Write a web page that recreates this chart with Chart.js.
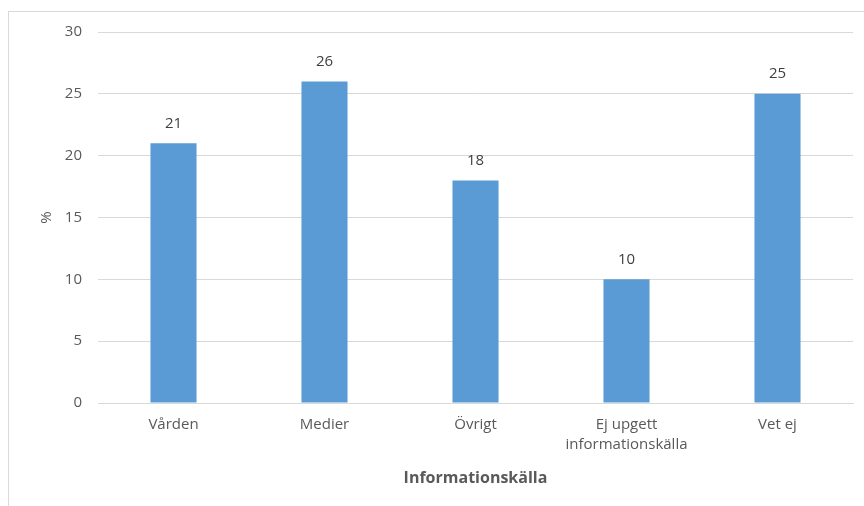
<!DOCTYPE html>
<html>
<head>
<meta charset="utf-8">
<script src="https://cdn.jsdelivr.net/npm/chart.js@4/dist/chart.umd.min.js"></script>
<style>
  html, body { margin: 0; padding: 0; background: #ffffff; }
  #wrap { width: 864px; height: 506px; position: relative; }
</style>
</head>
<body>
<div id="wrap"><canvas id="c" width="864" height="506"></canvas></div>
<script>
// Andel (%) per informationskälla
const categories = ['Vården', 'Medier', 'Övrigt', ['Ej upgett', 'informationskälla'], 'Vet ej'];
const values = [21, 26, 18, 10, 25];
const yTicks = [0, 5, 10, 15, 20, 25, 30];

const FONT = '"Open Sans", "Noto Sans", sans-serif';
const TEXT = '#595959';
const GRID = '#d9d9d9';

// Thin outer frame around the whole chart
const framePlugin = {
  id: 'frame',
  beforeDraw(chart) {
    const ctx = chart.ctx;
    ctx.save();
    ctx.strokeStyle = GRID;
    ctx.lineWidth = 1;
    ctx.strokeRect(8.5, 11.5, chart.width + 20, chart.height + 20);
    ctx.restore();
  }
};

// Value printed above each bar
const valueLabels = {
  id: 'valueLabels',
  afterDatasetsDraw(chart) {
    const ctx = chart.ctx;
    const meta = chart.getDatasetMeta(0);
    ctx.save();
    ctx.font = '15px ' + FONT;
    ctx.fillStyle = '#404040';
    ctx.textAlign = 'center';
    ctx.textBaseline = 'middle';
    meta.data.forEach((bar, i) => {
      ctx.fillText(String(values[i]), bar.x, bar.y - 20);
    });
    ctx.restore();
  }
};

new Chart(document.getElementById('c'), {
  type: 'bar',
  data: {
    labels: categories,
    datasets: [{
      data: values,
      backgroundColor: '#5b9bd5',
      borderWidth: 0,
      categoryPercentage: 1,
      barPercentage: 0.305
    }]
  },
  options: {
    responsive: false,
    animation: false,
    layout: { padding: { left: 0, right: 11, top: 32, bottom: 0 } },
    plugins: {
      legend: { display: false },
      tooltip: { enabled: false }
    },
    scales: {
      x: {
        grid: { display: false, drawTicks: false },
        border: { display: true, color: GRID, width: 1 },
        ticks: {
          color: TEXT,
          font: { family: FONT, size: 15, lineHeight: 1.33 },
          padding: 12,
          maxRotation: 0,
          autoSkip: false
        },
        title: {
          display: true,
          text: 'Informationskälla',
          color: TEXT,
          font: { family: FONT, size: 16, weight: 'bold' },
          padding: { top: 0, bottom: 18 }
        },
        afterFit(scale) { scale.height = 103; }
      },
      y: {
        min: 0,
        max: 30,
        afterBuildTicks(scale) { scale.ticks = yTicks.map(v => ({ value: v })); },
        grid: { color: GRID, drawTicks: false },
        border: { display: false },
        ticks: {
          color: TEXT,
          font: { family: FONT, size: 15 },
          padding: 16
        },
        title: {
          display: true,
          text: '%',
          color: TEXT,
          font: { family: FONT, size: 15 },
          padding: { top: 38, bottom: 0 }
        },
        afterFit(scale) { scale.width = 98; }
      }
    }
  },
  plugins: [framePlugin, valueLabels]
});
</script>
</body>
</html>
